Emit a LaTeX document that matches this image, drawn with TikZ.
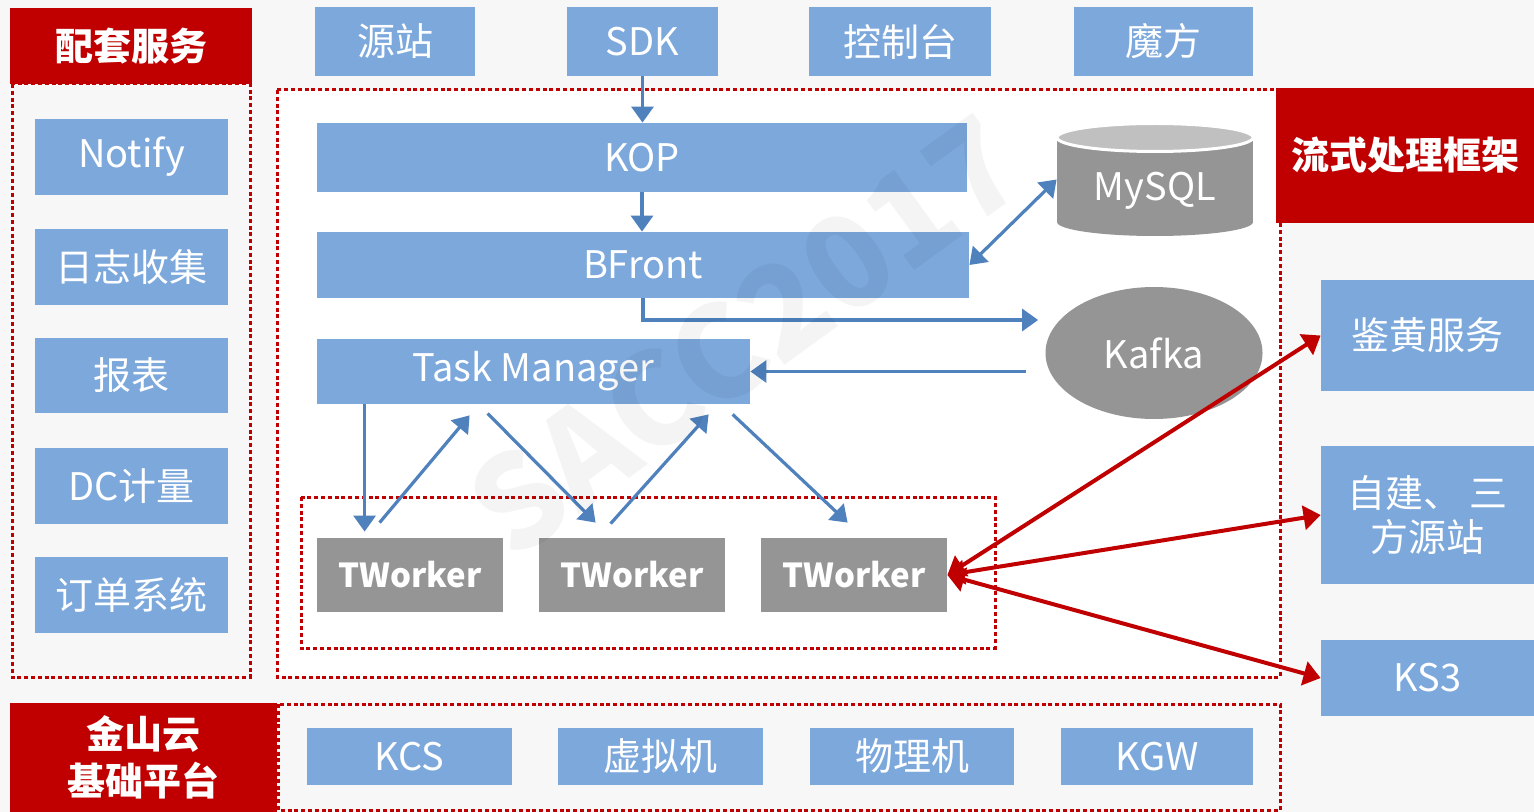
\documentclass[tikz,border=0pt]{standalone}
\usepackage{fontspec}
\setmainfont{Noto Sans CJK SC}
\usetikzlibrary{arrows.meta,calc,shapes.geometric}
\definecolor{bbox}{HTML}{7CA8DC}
\definecolor{barrow}{HTML}{4F81BD}
\definecolor{rred}{HTML}{C00000}
\definecolor{gbox}{HTML}{959595}
\definecolor{gtop}{HTML}{C0C0C0}
\definecolor{bgc}{HTML}{F7F7F7}
\newcommand\mybox[7]{\node[#6, minimum width={(#4-#2)*0.5pt}, minimum height={(#5-#3)*0.5pt}] (#1) at ({(#2+#4)/2},{(#3+#5)/2}) {#7};}
\tikzset{
  lblfont/.style={font=\fontsize{19}{22}\selectfont},
  bluebox/.style={fill=bbox, text=white, inner sep=0pt, lblfont, align=center},
  redbox/.style={fill=rred, text=white, inner sep=0pt, font=\fontsize{19}{23.5}\selectfont\bfseries, align=center},
  graybox/.style={fill=gbox, text=white, inner sep=0pt, font=\fontsize{16.5}{20}\selectfont\bfseries},
  dotbox/.style={draw=rred, line width=1.5pt, dash pattern=on 2pt off 1.4pt},
  barr/.style={draw=barrow, line width=1.6pt, -{Triangle[length=8pt,width=11pt]}},
  barrb/.style={draw=barrow, line width=1.6pt, {Triangle[length=8pt,width=11pt]}-{Triangle[length=8pt,width=11pt]}},
  rarr/.style={draw=rred, line width=2pt, {Triangle[length=8.5pt,width=12pt]}-{Triangle[length=8.5pt,width=12pt]}},
}
\begin{document}
\begin{tikzpicture}[x=0.5pt,y={(0pt,-0.5pt)}]
\useasboundingbox (0,0) rectangle (1534,812);
\fill[bgc] (0,0) rectangle (1534,812);
\fill[white] (277,90) rectangle (1280,677);
% dotted regions
\draw[dotbox] (12,84) rectangle (250,677);
\draw[dotbox] (277,90) rectangle (1280,677);
\draw[dotbox] (301,497) rectangle (995,648);
\draw[dotbox] (278,704) rectangle (1280,810);
% left column
\mybox{cfw}{10}{8}{252}{84}{redbox}{配套服务}
\mybox{notify}{35}{119}{228}{195}{bluebox}{Notify}
\mybox{rzsj}{35}{229}{228}{305}{bluebox}{日志收集}
\mybox{bb}{35}{338}{228}{413}{bluebox}{报表}
\mybox{dc}{35}{448}{228}{524}{bluebox}{DC计量}
\mybox{dd}{35}{557}{228}{633}{bluebox}{订单系统}
% top row
\mybox{yz}{315}{7}{475}{76}{bluebox}{源站}
\mybox{sdk}{567}{7}{718}{76}{bluebox}{SDK}
\mybox{kzt}{809}{7}{991}{76}{bluebox}{控制台}
\mybox{mf}{1074}{7}{1253}{76}{bluebox}{魔方}
% framework
\mybox{kop}{317}{123}{967}{192}{bluebox}{KOP}
\mybox{bfront}{317}{232}{969}{298}{bluebox}{BFront}
\mybox{tm}{317}{339}{750}{404}{bluebox}{Task Manager}
\mybox{tw1}{317}{538}{503}{612}{graybox}{TWorker}
\mybox{tw2}{539}{538}{725}{612}{graybox}{TWorker}
\mybox{tw3}{761}{538}{947}{612}{graybox}{TWorker}
% MySQL cylinder
\fill[gbox] (1057,137) rectangle (1253,222);
\fill[gbox] (1155,222) ellipse [x radius=49pt, y radius=7pt];
\filldraw[fill=gtop, draw=white, line width=1.5pt] (1155,137.5) ellipse [x radius=49pt, y radius=7pt];
\node[minimum width=98pt, minimum height=56.5pt, inner sep=0pt] (mysql) at (1155,179.5) {};
\node[text=white, lblfont, inner sep=0pt] (mysqlt) at (1155,191) {MySQL};
% Kafka
\node[ellipse, fill=gbox, text=white, lblfont, minimum width=108.5pt, minimum height=66pt, inner sep=0pt] (kafka) at (1154,353) {Kafka};
% right column
\mybox{lszk}{1276}{88}{1534}{223}{redbox}{流式处理框架}
\mybox{jh}{1321}{280}{1534}{391}{bluebox}{鉴黄服务}
\mybox{zj}{1321}{446}{1534}{584}{bluebox}{自建、\hspace{4pt}三\\方源站}
\mybox{ks3}{1321}{640}{1534}{716}{bluebox}{KS3}
% bottom
\mybox{jsy}{10}{703}{277}{812}{redbox}{金山云\\基础平台}
\mybox{kcs}{307}{728}{512}{785}{bluebox}{KCS}
\mybox{xnj}{558}{728}{763}{785}{bluebox}{虚拟机}
\mybox{wlj}{810}{728}{1014}{785}{bluebox}{物理机}
\mybox{kgw}{1061}{728}{1253}{785}{bluebox}{KGW}
% blue connectors
\coordinate (kafout) at ($(kafka.west)+(-19,18.5)$);
\coordinate (kafin) at ($(kafka.west)+(-7,-33)$);
\draw[barr] (sdk.south) -- (sdk.south |- kop.north);
\draw[barr] (kop.south) -- (kop.south |- bfront.north);
\draw[barrb] (bfront.east) -- (mysql.west);
\draw[barr] (bfront.south) |- (kafin);
\draw[barr] (kafout) -- (kafout -| tm.east);
\draw[barr] ($(tm.south west)+(48,0)$) -- ($(tw1.north west)+(48,-6)$);
\draw[barr] ($(tw1.north west)+(63,-15)$) -- ($(tm.south west)+(153,11)$);
\draw[barr] ($(tm.south west)+(171,9)$) -- ($(tw2.north west)+(57,-15)$);
\draw[barr] ($(tw2.north west)+(72,-14)$) -- ($(tm.south west)+(392,10)$);
\draw[barr] ($(tm.south west)+(416,10)$) -- ($(tw3.north west)+(87,-15)$);
% red connectors
\draw[rarr] (tw3.east) -- (jh.west);
\draw[rarr] (tw3.east) -- (zj.west);
\draw[rarr] (tw3.east) -- (ks3.west);
% watermark
\node[rotate=36, font=\fontsize{64}{64}\selectfont\bfseries, text=black, text opacity=0.045] (wm) at (745,335) {SACC2017};
\end{tikzpicture}
\end{document}
